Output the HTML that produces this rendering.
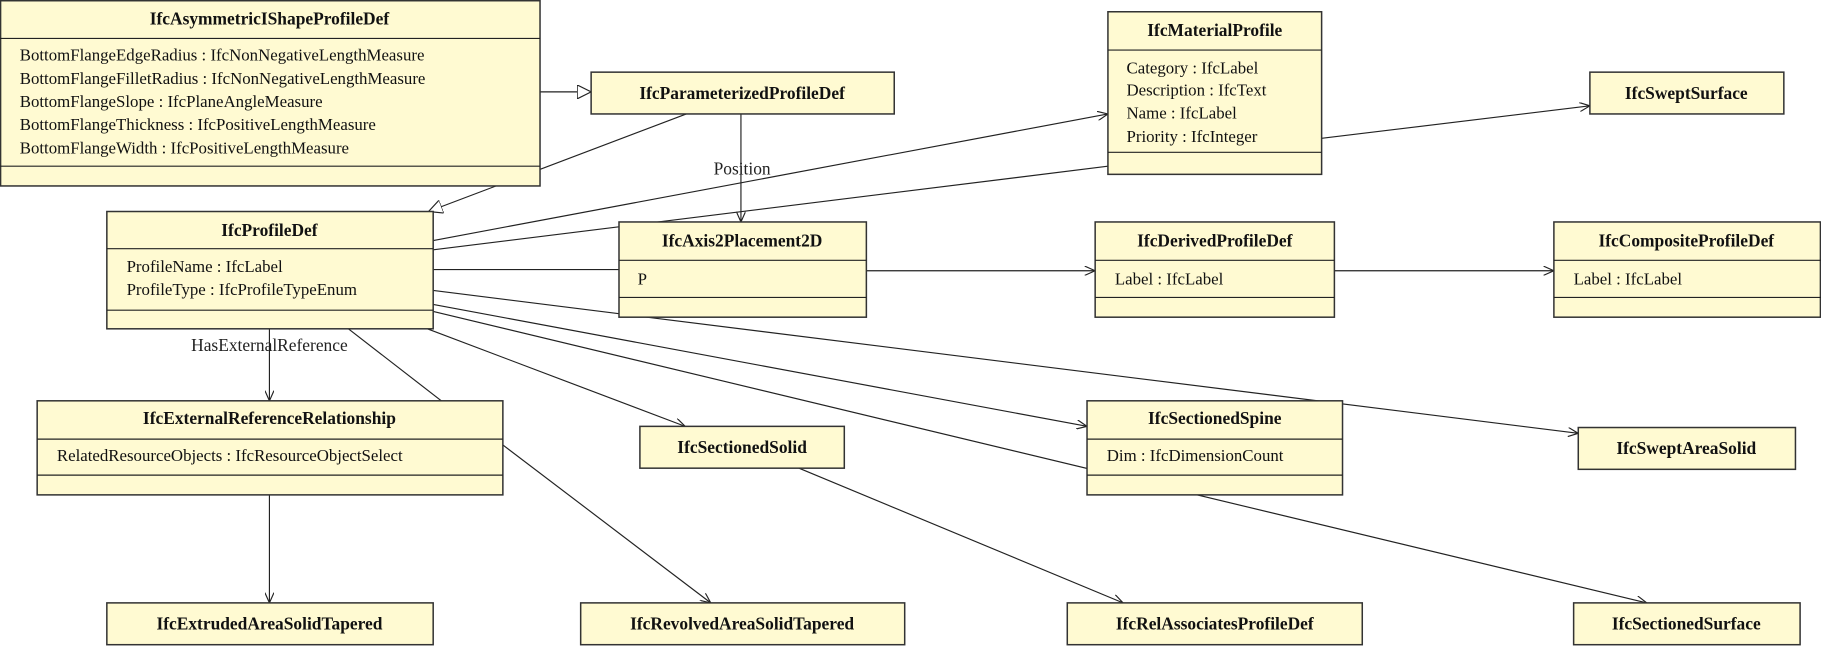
<!DOCTYPE html>
<html><head><meta charset="utf-8"><style>
html,body{margin:0;padding:0;background:#fff;}
svg{display:block;}
.b{fill:#fffad2;stroke:#333;stroke-width:1.3;}
.l{stroke:#222;stroke-width:1;fill:none;}
.t{font-family:"Liberation Serif",serif;font-weight:bold;font-size:15px;fill:#111;text-anchor:middle;}
.a{font-family:"Liberation Serif",serif;font-size:14.5px;fill:#111;}
.lb{font-family:"Liberation Serif",serif;font-size:15px;fill:#222;text-anchor:middle;}
</style></head><body>
<svg width="1821" height="646" viewBox="0 0 1568 556" xmlns="http://www.w3.org/2000/svg">
<defs>
<marker id="ar" markerWidth="10" markerHeight="8" refX="9" refY="4" orient="auto" markerUnits="userSpaceOnUse"><path d="M0,0 L9,4 L0,8" fill="none" stroke="#222" stroke-width="1"/></marker>
<marker id="tr" markerWidth="14" markerHeight="12" refX="12" refY="6" orient="auto" markerUnits="userSpaceOnUse"><path d="M0,0 L12,6 L0,12 Z" fill="#fff" stroke="#222" stroke-width="1"/></marker>
</defs>
<line class="l" x1="465" y1="79" x2="509" y2="79" marker-end="url(#tr)"/>
<line class="l" x1="591" y1="98" x2="369" y2="182" marker-end="url(#tr)"/>
<line class="l" x1="638" y1="98" x2="638" y2="191" marker-end="url(#ar)"/>
<text class="lb" x="639" y="150">Position</text>
<line class="l" x1="373" y1="207" x2="954" y2="98" marker-end="url(#ar)"/>
<line class="l" x1="954" y1="143" x2="373" y2="215"/>
<line class="l" x1="373" y1="232" x2="533" y2="232"/>
<line class="l" x1="746" y1="233" x2="943" y2="233" marker-end="url(#ar)"/>
<line class="l" x1="1149" y1="233" x2="1338" y2="233" marker-end="url(#ar)"/>
<line class="l" x1="1138" y1="119" x2="1369" y2="91" marker-end="url(#ar)"/>
<line class="l" x1="232" y1="283" x2="232" y2="345" marker-end="url(#ar)"/>
<text class="lb" x="232" y="302">HasExternalReference</text>
<line class="l" x1="232" y1="426" x2="232" y2="519" marker-end="url(#ar)"/>
<line class="l" x1="300" y1="283" x2="380" y2="345"/>
<line class="l" x1="433" y1="383" x2="612" y2="519" marker-end="url(#ar)"/>
<line class="l" x1="368" y1="283" x2="590" y2="367" marker-end="url(#ar)" stroke-width="1.5"/>
<line class="l" x1="688" y1="403" x2="967" y2="519" marker-end="url(#ar)"/>
<line class="l" x1="373" y1="262" x2="936" y2="367" marker-end="url(#ar)"/>
<line class="l" x1="373" y1="268" x2="1418" y2="519" marker-end="url(#ar)"/>
<line class="l" x1="373" y1="250" x2="1359" y2="373" marker-end="url(#ar)"/>
<g>
<rect class="b" x="0.5" y="0.5" width="464.5" height="159.5"/>
<line class="l" x1="0" y1="33" x2="465" y2="33"/><line class="l" x1="0" y1="143" x2="465" y2="143"/>
<text class="t" x="232" y="21">IfcAsymmetricIShapeProfileDef</text>
<text class="a" x="17" y="52">BottomFlangeEdgeRadius : IfcNonNegativeLengthMeasure</text>
<text class="a" x="17" y="72">BottomFlangeFilletRadius : IfcNonNegativeLengthMeasure</text>
<text class="a" x="17" y="92">BottomFlangeSlope : IfcPlaneAngleMeasure</text>
<text class="a" x="17" y="112">BottomFlangeThickness : IfcPositiveLengthMeasure</text>
<text class="a" x="17" y="132">BottomFlangeWidth : IfcPositiveLengthMeasure</text>
</g>
<rect class="b" x="509" y="62" width="261" height="36"/><text class="t" x="639" y="85">IfcParameterizedProfileDef</text>
<g>
<rect class="b" x="954" y="10" width="184" height="140"/>
<line class="l" x1="954" y1="43" x2="1138" y2="43"/><line class="l" x1="954" y1="131" x2="1138" y2="131"/>
<text class="t" x="1046" y="31">IfcMaterialProfile</text>
<text class="a" x="970" y="63">Category : IfcLabel</text>
<text class="a" x="970" y="82">Description : IfcText</text>
<text class="a" x="970" y="102">Name : IfcLabel</text>
<text class="a" x="970" y="122">Priority : IfcInteger</text>
</g>
<rect class="b" x="1369" y="62" width="167" height="36"/><text class="t" x="1452" y="85">IfcSweptSurface</text>
<g>
<rect class="b" x="92" y="182" width="281" height="101"/>
<line class="l" x1="92" y1="214" x2="373" y2="214"/><line class="l" x1="92" y1="267" x2="373" y2="267"/>
<text class="t" x="232" y="203">IfcProfileDef</text>
<text class="a" x="109" y="234">ProfileName : IfcLabel</text>
<text class="a" x="109" y="254">ProfileType : IfcProfileTypeEnum</text>
</g>
<g>
<rect class="b" x="533" y="191" width="213" height="82"/>
<line class="l" x1="533" y1="224" x2="746" y2="224"/><line class="l" x1="533" y1="256" x2="746" y2="256"/>
<text class="t" x="639" y="212">IfcAxis2Placement2D</text>
<text class="a" x="549" y="245">P</text>
</g>
<g>
<rect class="b" x="943" y="191" width="206" height="82"/>
<line class="l" x1="943" y1="224" x2="1149" y2="224"/><line class="l" x1="943" y1="256" x2="1149" y2="256"/>
<text class="t" x="1046" y="212">IfcDerivedProfileDef</text>
<text class="a" x="960" y="245">Label : IfcLabel</text>
</g>
<g>
<rect class="b" x="1338" y="191" width="229.5" height="82"/>
<line class="l" x1="1338" y1="224" x2="1568" y2="224"/><line class="l" x1="1338" y1="256" x2="1568" y2="256"/>
<text class="t" x="1452" y="212">IfcCompositeProfileDef</text>
<text class="a" x="1355" y="245">Label : IfcLabel</text>
</g>
<g>
<rect class="b" x="32" y="345" width="401" height="81"/>
<line class="l" x1="32" y1="378" x2="433" y2="378"/><line class="l" x1="32" y1="409" x2="433" y2="409"/>
<text class="t" x="232" y="365">IfcExternalReferenceRelationship</text>
<text class="a" x="49" y="397">RelatedResourceObjects : IfcResourceObjectSelect</text>
</g>
<rect class="b" x="551" y="367" width="176" height="36"/><text class="t" x="639" y="390">IfcSectionedSolid</text>
<g>
<rect class="b" x="936" y="345" width="220" height="81"/>
<line class="l" x1="936" y1="378" x2="1156" y2="378"/><line class="l" x1="936" y1="409" x2="1156" y2="409"/>
<text class="t" x="1046" y="365">IfcSectionedSpine</text>
<text class="a" x="953" y="397">Dim : IfcDimensionCount</text>
</g>
<rect class="b" x="1359" y="368" width="187" height="36"/><text class="t" x="1452" y="391">IfcSweptAreaSolid</text>
<rect class="b" x="92" y="519" width="281" height="36"/><text class="t" x="232" y="542">IfcExtrudedAreaSolidTapered</text>
<rect class="b" x="500" y="519" width="279" height="36"/><text class="t" x="639" y="542">IfcRevolvedAreaSolidTapered</text>
<rect class="b" x="919" y="519" width="254" height="36"/><text class="t" x="1046" y="542">IfcRelAssociatesProfileDef</text>
<rect class="b" x="1355" y="519" width="195" height="36"/><text class="t" x="1452" y="542">IfcSectionedSurface</text>
</svg>
</body></html>
